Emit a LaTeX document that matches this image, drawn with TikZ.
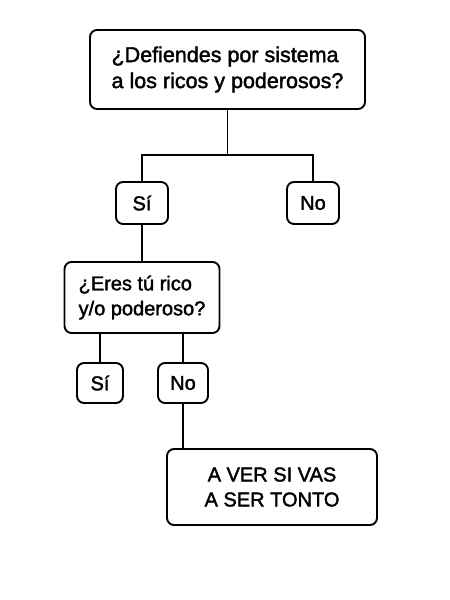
\documentclass[tikz,border=0pt]{standalone}
\usepackage{fontspec}
\setmainfont{Liberation Sans}[FakeBold=1.8]
\usetikzlibrary{positioning}

\begin{document}
\begin{tikzpicture}[
    box/.style  = {draw, rounded corners=7pt, line width=1.9pt, inner sep=0pt,
                   outer sep=0pt, font=\fontsize{20}{25}\selectfont},
    line/.style = {line width=1.9pt},
]
\useasboundingbox (0pt,0pt) rectangle (450pt,-600pt);

%% First question
\node[box, minimum width=275pt, minimum height=79pt, align=left,
      font=\fontsize{21.5}{26}\selectfont]
    (q1) at (227.5pt,-69.5pt) {¿Defiendes por sistema\\ a los ricos y poderosos?};

%% First answers
\node[box, minimum width=52pt, minimum height=42pt,
      below=73pt of q1.south, xshift=-85.5pt] (si1) {Sí};
\node[box, minimum width=52pt, minimum height=42pt,
      below=73pt of q1.south, xshift=85.5pt]  (no1) {No};

%% Second question
\node[box, minimum width=155pt, minimum height=71pt, align=left,
      below=38pt of si1] (q2) {¿Eres tú rico\\ y/o poderoso?};

%% Second answers
\node[box, minimum width=46pt, minimum height=40pt,
      below=30pt of q2.south, xshift=-42pt] (si2) {Sí};
\node[box, minimum width=50pt, minimum height=40pt,
      below=30pt of q2.south, xshift=41pt]  (no2) {No};

%% Verdict
\node[box, minimum width=210pt, minimum height=76pt, align=center,
      below right=46pt and -41pt of no2] (ans) {A VER SI VAS\\ A SER TONTO};

%% Connectors
\draw[line] (q1.south) -- ++(0pt,-46pt) coordinate (split1);
\draw[line] (si1.north) |- (split1) -| (no1.north);
\draw[line] (si1.south) -- (q2.north -| si1.south);
\draw[line] (si2.north) -- (si2.north |- q2.south);
\draw[line] (no2.north) -- (no2.north |- q2.south);
\draw[line] (no2.south) -- (no2.south |- ans.north);

\end{tikzpicture}
\end{document}
